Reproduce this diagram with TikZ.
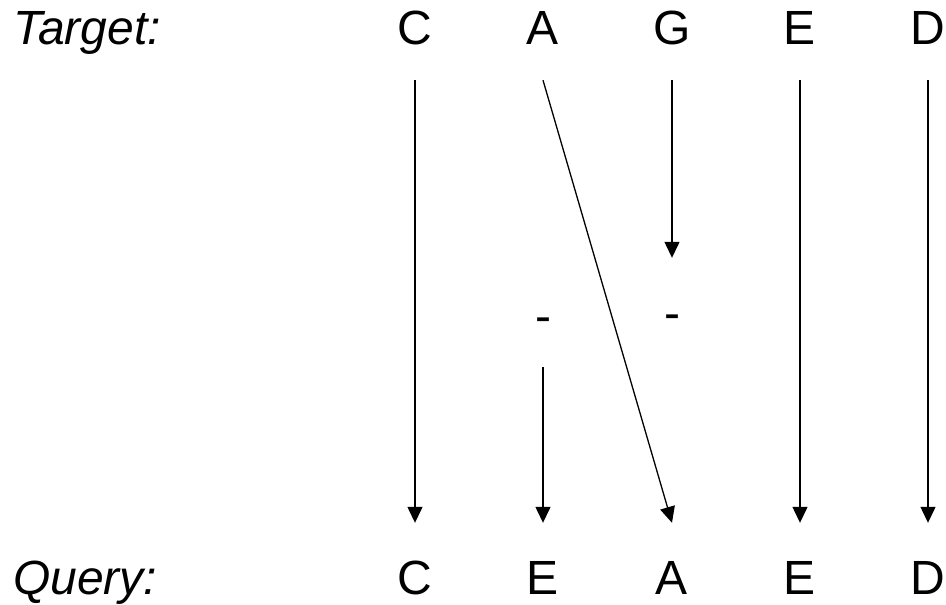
\documentclass[tikz,border=0pt]{standalone}
\usepackage{fontspec}
\setmainfont{Liberation Sans}
\usetikzlibrary{arrows.meta}
\begin{document}
\begin{tikzpicture}[x=1pt,y=-1pt,
  lbl/.style={inner sep=0pt,text height=35pt,text depth=0pt,anchor=base,font=\fontsize{48}{58}\selectfont},
  side/.style={inner sep=0pt,anchor=base west,font=\fontsize{48}{58}\selectfont\itshape},
  conn/.style={line width=1.3pt,-{Triangle[width=15pt,length=16pt]},shorten <=35pt,shorten >=36pt}]
\useasboundingbox (0,0) rectangle (946,605);
\node[side] (tl) at (13,45) {Target:};
\node[side] (ql) at (13,594) {Query:};
\node[lbl] (t1) at (415,45) {C};
\node[lbl] (t2) at (543,45) {A};
\node[lbl] (t3) at (672,45) {G};
\node[lbl] (t4) at (800,45) {E};
\node[lbl] (t5) at (928,45) {D};
\node[lbl] (b1) at (415,594) {C};
\node[lbl] (b2) at (543,594) {E};
\node[lbl] (b3) at (672,594) {A};
\node[lbl] (b4) at (800,594) {E};
\node[lbl] (b5) at (928,594) {D};
\node[lbl] (d1) at (543,332) {-};
\node[lbl] (d2) at (672,329) {-};
\draw[conn] (t1.south) -- (b1.north);
\draw[conn,shorten <=0pt,shorten >=0pt] ([yshift=-35pt]t2.south) -- ([yshift=36pt]b3.north);
\draw[conn] (t3.south) -- (d2.north);
\draw[conn] (d1.south) -- (b2.north);
\draw[conn] (t4.south) -- (b4.north);
\draw[conn] (t5.south) -- (b5.north);
\end{tikzpicture}
\end{document}
